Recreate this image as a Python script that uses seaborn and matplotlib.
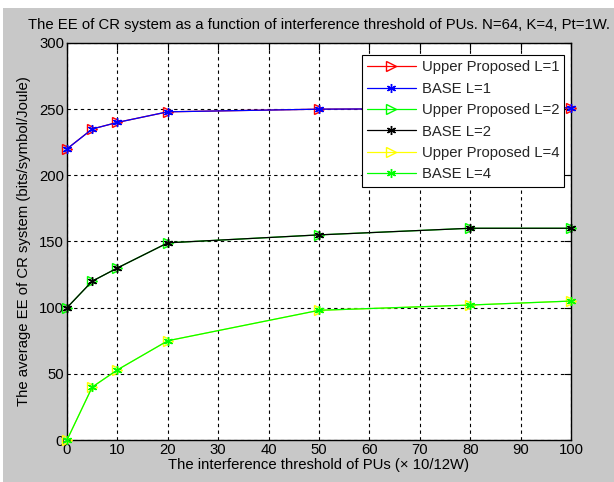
import matplotlib
matplotlib.use("Agg")
import matplotlib.pyplot as plt
import seaborn as sns
import pandas as pd

# Interference threshold (x 10/12 W)
threshold = [0, 5, 10, 20, 50, 80, 100]

# Average energy efficiency (bits/symbol/Joule)
upper_l1 = [220, 235, 240, 248, 250, 250.5, 251]
base_l1 = [220, 235, 240, 248, 250, 250.5, 251]
upper_l2 = [100, 120, 130, 149, 155, 160, 160]
base_l2 = [100, 120, 130, 149, 155, 160, 160]
upper_l4 = [0, 40, 53, 75, 98, 102, 105]
base_l4 = [0, 40, 53, 75, 98, 102, 105]

series_names = ["Upper Proposed L=1", "BASE L=1", "Upper Proposed L=2",
                "BASE L=2", "Upper Proposed L=4", "BASE L=4"]
series_values = [upper_l1, base_l1, upper_l2, base_l2, upper_l4, base_l4]
series_colors = ["#ff0000", "#0000ff", "#00ff00", "#000000", "#ffff00", "#00ff00"]

x_ticks = [0, 10, 20, 30, 40, 50, 60, 70, 80, 90, 100]
y_ticks = [0, 50, 100, 150, 200, 250, 300]

sns.set_theme(style="white")
plt.rcParams["font.family"] = ["Liberation Sans", "DejaVu Sans"]
plt.rcParams["font.size"] = 10.7

df = pd.concat(
    [pd.DataFrame({"threshold": threshold, "ee": vals, "series": name})
     for name, vals in zip(series_names, series_values)],
    ignore_index=True,
)

fig = plt.figure(figsize=(6.14, 4.82), dpi=100, facecolor="#c8c8c8")
# white margin strip along the top and left edges
fig.patches.append(plt.Rectangle((0, 1 - 8 / 482), 1, 8 / 482, transform=fig.transFigure,
                                 facecolor="white", edgecolor="none", zorder=-1))
fig.patches.append(plt.Rectangle((0, 0), 3 / 614, 1, transform=fig.transFigure,
                                 facecolor="white", edgecolor="none", zorder=-1))

ax = fig.add_axes([67 / 614, 1 - 440 / 482, (571 - 67) / 614, (440 - 43) / 482])
ax.set_facecolor("white")

asterisk = (6, 2, 0)
for name, color in zip(series_names, series_colors):
    sub = df[df["series"] == name]
    is_upper = name.startswith("Upper")
    sns.lineplot(
        data=sub, x="threshold", y="ee", ax=ax, color=color, linewidth=0.9,
        marker=">" if is_upper else asterisk,
        markersize=7.5 if is_upper else 6.5,
        markerfacecolor="none" if is_upper else color,
        markeredgecolor=color, markeredgewidth=1.0,
        label=name, clip_on=False, zorder=3,
    )

ax.set_xlim(0, 100)
ax.set_ylim(0, 300)
ax.set_xticks(x_ticks)
ax.set_yticks(y_ticks)
ax.grid(True, color="black", linestyle=(0, (3, 3)), linewidth=0.8)
ax.tick_params(direction="in", top=True, right=True, length=5, width=0.8,
               labelsize=10.7, colors="black", pad=2)
for sp in ax.spines.values():
    sp.set_visible(True)
    sp.set_color("black")
    sp.set_linewidth(1.0)

ax.set_title("The EE of CR system as a function of interference threshold of PUs. N=64, K=4, Pt=1W.",
             fontsize=10.7, pad=10, color="black")
ax.set_xlabel("The interference threshold of PUs (\u00d7 10/12W)", fontsize=10.7, labelpad=1, color="black")
ax.set_ylabel("The average EE of CR system (bits/symbol/Joule)", fontsize=10.7, labelpad=6, color="black")

leg = ax.legend(loc="upper right", bbox_to_anchor=(0.993, 0.977), frameon=True, fancybox=False,
                edgecolor="black", framealpha=1, fontsize=10.7, handlelength=3.3,
                borderpad=0.35, labelspacing=0.5, handletextpad=0.4, borderaxespad=0.2)
leg.get_frame().set_linewidth(0.8)

fig.savefig("out.png", dpi=100, facecolor=fig.get_facecolor())
